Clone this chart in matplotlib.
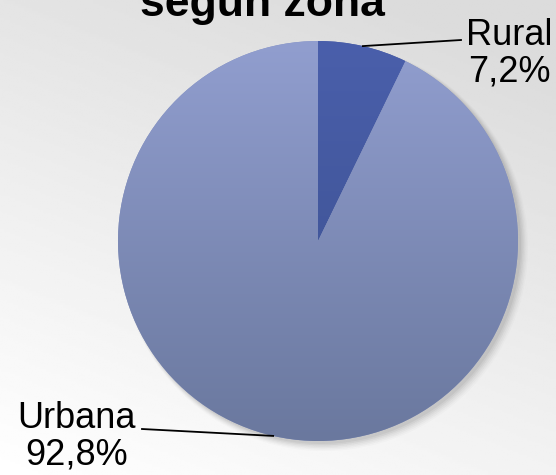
import numpy as np
import matplotlib
matplotlib.use("Agg")
import matplotlib.pyplot as plt
from matplotlib.patches import Circle

plt.rcParams['font.family'] = ['Liberation Sans', 'DejaVu Sans']

# data
zones = ['Rural', 'Urbana']
shares = [7.2, 92.8]
title = 'según zona'

W, H = 556, 475
fig = plt.figure(figsize=(W / 100, H / 100), dpi=100)
ax = fig.add_axes([0, 0, 1, 1])

# background gradient, white top-left -> light gray bottom-right
yy, xx = np.mgrid[0:1:200j, 0:1:200j]
t = np.clip(0.35 * xx + 0.75 * (1 - yy), 0, 1)
bg = 1 - 0.14 * t
ax.imshow(bg, cmap='gray', vmin=0, vmax=1, extent=[0, W, 0, H], origin='upper', zorder=0)

cx, cy, r = 318, H - 241, 200

# soft shadow
for i, a in enumerate(np.linspace(0.06, 0.02, 6)):
    ax.add_patch(Circle((cx + 3 + i * 0.6, cy - 3 - i * 0.6), r + i * 0.8,
                        color='#303030', alpha=a, lw=0, zorder=1))

wedges, _ = ax.pie(shares, startangle=90, counterclock=False, center=(cx, cy),
                   radius=r, frame=True, colors=['#4a5ea6', '#8592c0'],
                   wedgeprops=dict(linewidth=0))
for w in wedges:
    w.set_zorder(2)

# gradient fills clipped to each wedge
grads = [('#4a5fab', '#3a4f8c'), ('#919ecf', '#6a789e')]
g = np.linspace(0, 1, 256)[:, None]
for w, (c0, c1) in zip(wedges, grads):
    c0 = np.array(matplotlib.colors.to_rgb(c0))
    c1 = np.array(matplotlib.colors.to_rgb(c1))
    img = (c0[None, None, :] * (1 - g[:, :, None]) + c1[None, None, :] * g[:, :, None])
    img = np.repeat(img, 2, axis=1)
    im = ax.imshow(img, extent=[cx - r, cx + r, cy - r, cy + r], origin='upper',
                   zorder=3, aspect='auto')
    im.set_clip_path(w)

# labels with leader lines
fs = 26
label_pos = [(509, H - 54), (77, H - 437)]
line_end = [(461, H - 40), (142, H - 429)]
for w, name, val, (tx, ty), (lx, ly) in zip(wedges, zones, shares, label_pos, line_end):
    mid = np.deg2rad((w.theta1 + w.theta2) / 2)
    px, py = cx + r * np.cos(mid), cy + r * np.sin(mid)
    ax.plot([px, lx], [py, ly], color='black', lw=1.3, zorder=4)
    ax.text(tx, ty, f'{name}\n{val:.1f}%'.replace('.', ','), ha='center', va='center',
            fontsize=fs, linespacing=1.05, zorder=5)

ax.text(262, H - 16, title, ha='center', va='baseline', fontsize=32,
        fontweight='bold', zorder=5)

ax.set_xlim(0, W)
ax.set_ylim(0, H)
ax.set_aspect('auto')
ax.axis('off')
fig.savefig('out.png', dpi=100)
